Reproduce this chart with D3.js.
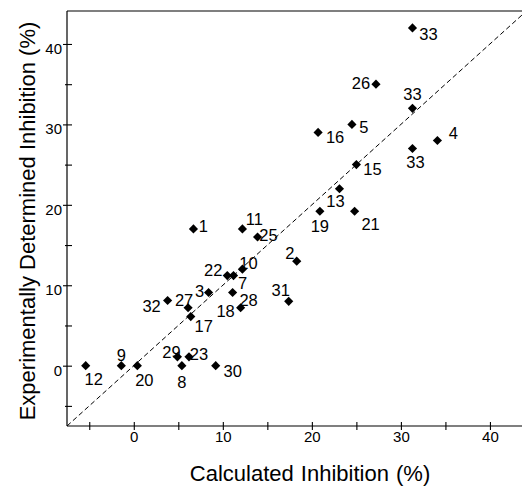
<!DOCTYPE html>
<html>
<head>
<meta charset="utf-8">
<script src="https://cdn.jsdelivr.net/npm/d3@7"></script>
<style>
  html, body { margin: 0; padding: 0; background: #fff; }
  svg { display: block; font-family: Arial, "Liberation Sans", sans-serif; }
</style>
</head>
<body>
<div id="chart"></div>
<script>
// Compound labels, calculated vs. experimental inhibition (%)
const compounds = ['33', '26', '33', '5', '16', '4', '33', '15', '13', '19', '21', '2', '31',
    '1', '11', '25', '10', '22', '7', '3', '28', '18', '32', '27', '17',
    '12', '9', '20', '29', '23', '8', '30'];
const calculated = [31.3, 27.2, 31.3, 24.5, 20.7, 34.1, 31.3, 25.0, 23.1, 20.9, 24.8, 18.3, 17.4,
    6.7, 12.2, 13.9, 12.2, 10.5, 11.2, 8.4, 11.1, 12.0, 3.8, 6.1, 6.4,
    -5.4, -1.4, 0.4, 4.9, 6.2, 5.4, 9.2];
const experimental = [42, 35, 32, 30, 29, 28, 27, 25, 22, 19.2, 19.2, 13, 8,
    17, 17, 16, 12, 11.2, 11.2, 9.1, 9.1, 7.2, 8.1, 7.2, 6.1,
    0, 0, 0, 1.1, 1.1, 0, 0];
const xTicks = [-5, 0, 5, 10, 15, 20, 25, 30, 35, 40];
const yTicks = [-5, 0, 5, 10, 15, 20, 25, 30, 35, 40];

// label placement (pixel nudge from the marker, as in the original figure)
const labelNudge = [[16, 6], [-15, -1], [0, -14], [12, 3], [17, 5], [16, -7], [3, 14], [16, 4],
    [-4, 12], [0, 15], [16, 13], [-7, -8], [-8, -11],
    [10, -3], [12, -10], [11, -2], [6, -6], [-14, -6], [9, 7], [-9, -1], [16, 8], [-15, 3],
    [-16, 6], [-4, -8], [13, 9],
    [8, 13], [0, -11], [7, 14], [-6, -5], [10, -3], [0, 16], [17, 5]];

const width = 522, height = 487;
const margin = { top: 11, right: 0, bottom: 61, left: 67 };

const svg = d3.select('#chart').append('svg')
    .attr('width', width)
    .attr('height', height);

const x = d3.scaleLinear().domain([-7.5, 43.6]).range([margin.left, width - margin.right]);
const y = d3.scaleLinear().domain([-7.5, 44.1]).range([height - margin.bottom, margin.top]);

// frame (top line; right side runs off the picture)
svg.append('line')
    .attr('x1', x.range()[0]).attr('x2', x.range()[1])
    .attr('y1', y.range()[1]).attr('y2', y.range()[1])
    .attr('stroke', '#000').attr('stroke-width', 1.2);

// x axis
const xAxis = svg.append('g')
    .attr('transform', `translate(0,${y.range()[0]})`)
    .call(d3.axisBottom(x).tickValues(xTicks).tickSize(4)
        .tickFormat(d => d % 10 === 0 ? d : ''));
xAxis.select('.domain').attr('d', `M${x.range()[0]},0H${x.range()[1]}`)
    .attr('stroke-width', 1.2);
xAxis.selectAll('.tick line').attr('y1', -4).attr('stroke-width', 1.1);
xAxis.selectAll('.tick text')
    .attr('y', 16).attr('dy', 0)
    .style('font-size', '15px').style('font-family', 'Arial, "Liberation Sans", sans-serif')
    .attr('fill', '#000');

// y axis
const yAxis = svg.append('g')
    .attr('transform', `translate(${x.range()[0]},0)`)
    .call(d3.axisLeft(y).tickValues(yTicks).tickSize(2)
        .tickFormat(d => d % 10 === 0 ? d : ''));
yAxis.select('.domain').attr('d', `M0,${y.range()[0]}V${y.range()[1]}`)
    .attr('stroke-width', 1.2);
yAxis.selectAll('.tick line')
    .attr('x1', d => d % 10 === 0 ? -4 : -2)
    .attr('x2', 5)
    .attr('stroke-width', 1.1);
yAxis.selectAll('.tick text')
    .attr('x', -5).attr('dy', 0).attr('y', 9.5)
    .style('font-size', '15px').style('font-family', 'Arial, "Liberation Sans", sans-serif')
    .attr('fill', '#000');

// identity line
svg.append('line')
    .attr('x1', x(-7.5)).attr('y1', y(-7.5))
    .attr('x2', x(43.6)).attr('y2', y(43.6))
    .attr('stroke', '#000').attr('stroke-width', 1)
    .attr('stroke-dasharray', '5,3');

// markers
const points = compounds.map((c, i) => ({ id: c, cx: calculated[i], ex: experimental[i], nudge: labelNudge[i] }));

svg.append('g').selectAll('path')
    .data(points)
    .join('path')
    .attr('d', d3.symbol(d3.symbolSquare, 42))
    .attr('transform', d => `translate(${x(d.cx)},${y(d.ex)}) rotate(45)`)
    .attr('fill', '#000');

svg.append('g').selectAll('text')
    .data(points)
    .join('text')
    .attr('x', d => x(d.cx) + d.nudge[0])
    .attr('y', d => y(d.ex) + d.nudge[1])
    .attr('dy', '0.36em')
    .attr('text-anchor', 'middle')
    .style('font-size', '16.5px')
    .attr('fill', '#000')
    .text(d => d.id);

// axis titles
svg.append('text')
    .attr('x', 310).attr('y', 481)
    .attr('text-anchor', 'middle')
    .style('font-size', '22px')
    .style('word-spacing', '1px')
    .text('Calculated Inhibition (%)');

svg.append('text')
    .attr('transform', 'translate(35,221) rotate(-90)')
    .attr('text-anchor', 'middle')
    .style('font-size', '22px')
    .text('Experimentally Determined Inhibition (%)');
</script>
</body>
</html>
